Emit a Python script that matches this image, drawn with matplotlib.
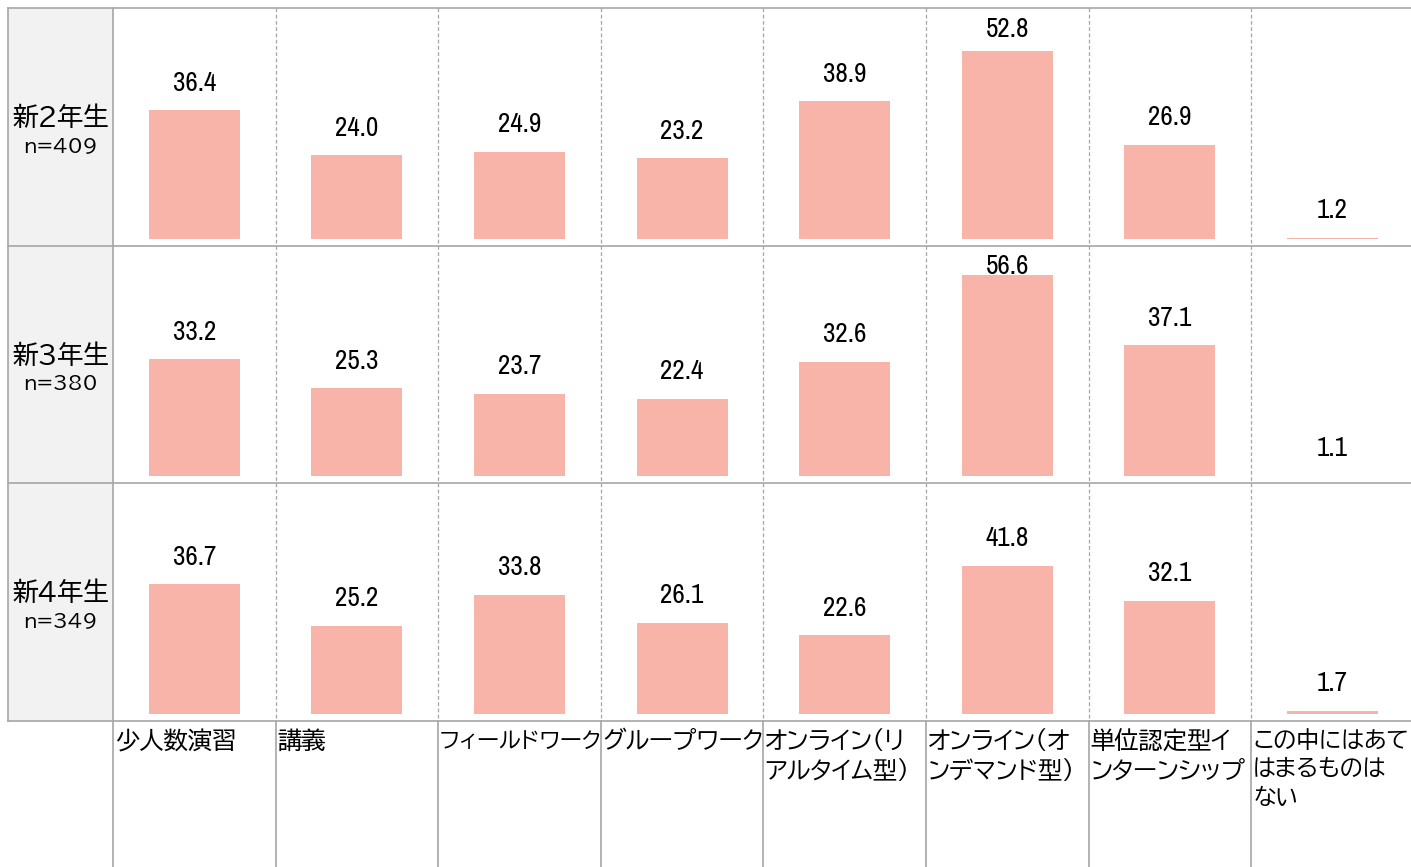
import matplotlib
matplotlib.use("Agg")
import matplotlib.pyplot as plt
from matplotlib.patches import Rectangle
from matplotlib.lines import Line2D

jp_font = ['BIZ UDPGothic', 'Noto Sans CJK JP', 'DejaVu Sans']
num_font = ['Archivo Narrow', 'Liberation Sans Narrow', 'DejaVu Sans']
plt.rcParams['font.family'] = jp_font

categories = ['少人数演習', '講義', 'フィールドワーク', 'グループワーク',
              'オンライン（リ\nアルタイム型）', 'オンライン（オ\nンデマンド型）',
              '単位認定型イ\nンターンシップ', 'この中にはあて\nはまるものは\nない']
row_names = ['新2年生', '新3年生', '新4年生']
row_n = ['n=409', 'n=380', 'n=349']
values_y2 = [36.4, 24.0, 24.9, 23.2, 38.9, 52.8, 26.9, 1.2]
values_y3 = [33.2, 25.3, 23.7, 22.4, 32.6, 56.6, 37.1, 1.1]
values_y4 = [36.7, 25.2, 33.8, 26.1, 22.6, 41.8, 32.1, 1.7]
all_values = [values_y2, values_y3, values_y4]

W, H = 1411, 867
fig = plt.figure(figsize=(W / 100, H / 100), dpi=100)

def fx(px):
    return px / W

def fy(py):
    return 1 - py / H

bar_color = '#f8b4a9'
line_color = '#a6a6a6'

left_x, lab_x = 8, 113
col_w = 162.6
right_x = lab_x + col_w * 8
row_edges = [8, 245.5, 483, 720.5]
bottom_y = 867
y_min, y_max = 1.0, 64.7   # value axis of every row (bars start above 1.0)

# grey label column
fig.patches.append(Rectangle((fx(left_x), fy(row_edges[-1])), fx(lab_x) - fx(left_x),
                             fy(row_edges[0]) - fy(row_edges[-1]), transform=fig.transFigure,
                             facecolor='#f2f2f2', edgecolor='none', zorder=0))

for r, vals in enumerate(all_values):
    top, bot = row_edges[r], row_edges[r + 1]
    base = bot - 7
    ax = fig.add_axes([fx(lab_x), fy(base), (right_x - lab_x) / W, (base - top) / H])
    ax.set_xlim(-0.5, 7.5)
    ax.set_ylim(y_min, y_max)
    ax.axis('off')
    ax.bar(range(len(vals)), vals, width=0.56, color=bar_color)
    for i, v in enumerate(vals):
        ax.text(i, min(v + 5.4, 56.7), f'{v:.1f}', ha='center', va='baseline',
                fontsize=19.5, family=num_font, color='black')
    # row label
    yc = (top + bot) / 2
    fig.text(fx((left_x + lab_x) / 2), fy(yc - 10), row_names[r], ha='center', va='center',
             fontsize=18.5)
    fig.text(fx((left_x + lab_x) / 2), fy(yc + 19), row_n[r], ha='center', va='center',
             fontsize=14)

def hline(y, x0, x1, ls='-'):
    fig.lines.append(Line2D([fx(x0), fx(x1)], [fy(y), fy(y)], transform=fig.transFigure,
                            color=line_color, lw=1.2, ls=ls, zorder=5))

def vline(x, y0, y1, ls='-'):
    fig.lines.append(Line2D([fx(x), fx(x)], [fy(y0), fy(y1)], transform=fig.transFigure,
                            color=line_color, lw=1.2 if ls == '-' else 0.9, ls=ls, zorder=5))

for y in row_edges:
    hline(y, left_x, W)
vline(left_x, row_edges[0], row_edges[-1])
vline(lab_x, row_edges[0], bottom_y)
for j in range(1, 8):
    x = lab_x + col_w * j
    vline(x, row_edges[0], row_edges[-1], ls=(0, (3, 2)))
    vline(x, row_edges[-1], bottom_y)

# category labels (long katakana lines a bit smaller so they fit the column)
label_sizes = [17.5, 17.5, 16, 17.5, 17.5, 17.5, 17.5, 16.5]
for j, c in enumerate(categories):
    fig.text(fx(lab_x + col_w * j + 2), fy(729), c, ha='left', va='top',
             fontsize=label_sizes[j], linespacing=1.33)

fig.savefig('out.png', dpi=100)
